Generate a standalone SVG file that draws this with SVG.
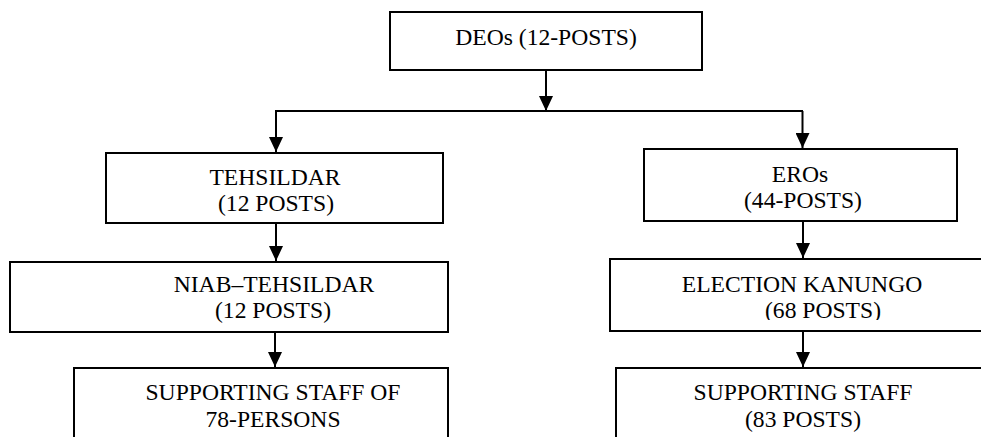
<svg xmlns="http://www.w3.org/2000/svg" width="981" height="437" viewBox="0 0 981 437">
  <style>
    .box { fill: #ffffff; stroke: #000000; stroke-width: 2; }
    .lbl { font-family: 'Liberation Serif', 'Times New Roman', 'DejaVu Serif', serif; font-size: 23.6px; fill: #000000; text-anchor: middle; }
    .wire { fill: none; stroke: #000000; stroke-width: 2; }
  </style>
  <defs>
    <!-- downward arrowhead, drawn along +x so orient="auto" turns it to the line direction -->
    <marker id="head" viewBox="0 0 15 14" refX="15" refY="7" markerWidth="15" markerHeight="14" markerUnits="userSpaceOnUse" orient="auto">
      <path d="M0,0 L15,7 L0,14 Z" fill="#000000"/>
    </marker>
    <clipPath id="kanungoClip">
      <rect x="610" y="259" width="371" height="61"/>
    </clipPath>
  </defs>
  <rect width="981" height="437" fill="#ffffff"/>

  <g id="deo">
    <rect class="box" x="390" y="12" width="312" height="58"/>
    <text class="lbl" x="546" y="45" font-family="Liberation Serif, serif">DEOs (12-POSTS)</text>
  </g>

  <g id="tehsildar">
    <rect class="box" x="106" y="153" width="337" height="70"/>
    <text class="lbl" x="275" y="185">TEHSILDAR</text>
    <text class="lbl" x="276" y="211">(12 POSTS)</text>
  </g>

  <g id="niab-tehsildar">
    <rect class="box" x="10" y="262" width="438" height="70"/>
    <text class="lbl" x="274" y="292">NIAB–TEHSILDAR</text>
    <text class="lbl" x="273" y="318">(12 POSTS)</text>
  </g>

  <g id="staff-left">
    <rect class="box" x="74" y="368" width="374" height="80"/>
    <text class="lbl" x="273" y="400">SUPPORTING STAFF OF</text>
    <text class="lbl" x="273" y="427">78-PERSONS</text>
  </g>

  <g id="eros">
    <rect class="box" x="644" y="149" width="313" height="72"/>
    <text class="lbl" x="800" y="182">EROs</text>
    <text class="lbl" x="803" y="208">(44-POSTS)</text>
  </g>

  <g id="election-kanungo">
    <rect class="box" x="610" y="259" width="380" height="72"/>
    <g clip-path="url(#kanungoClip)">
      <text class="lbl" x="802" y="292">ELECTION KANUNGO</text>
      <text class="lbl" x="823" y="318">(68 POSTS)</text>
    </g>
  </g>

  <g id="staff-right">
    <rect class="box" x="616" y="368" width="374" height="80"/>
    <text class="lbl" x="803" y="400">SUPPORTING STAFF</text>
    <text class="lbl" x="803" y="427">(83 POSTS)</text>
  </g>

  <g id="connectors">
    <line class="wire" x1="546" y1="70" x2="546" y2="111" marker-end="url(#head)"/>
    <line class="wire" x1="275" y1="111" x2="803" y2="111"/>
    <line class="wire" x1="276" y1="111" x2="276" y2="152" marker-end="url(#head)"/>
    <line class="wire" x1="802.5" y1="111" x2="802.5" y2="148" marker-end="url(#head)"/>
    <line class="wire" x1="276" y1="223" x2="276" y2="261" marker-end="url(#head)"/>
    <line class="wire" x1="275" y1="332" x2="275" y2="367" marker-end="url(#head)"/>
    <line class="wire" x1="803" y1="221" x2="803" y2="258" marker-end="url(#head)"/>
    <line class="wire" x1="803" y1="331" x2="803" y2="367" marker-end="url(#head)"/>
  </g>
</svg>
